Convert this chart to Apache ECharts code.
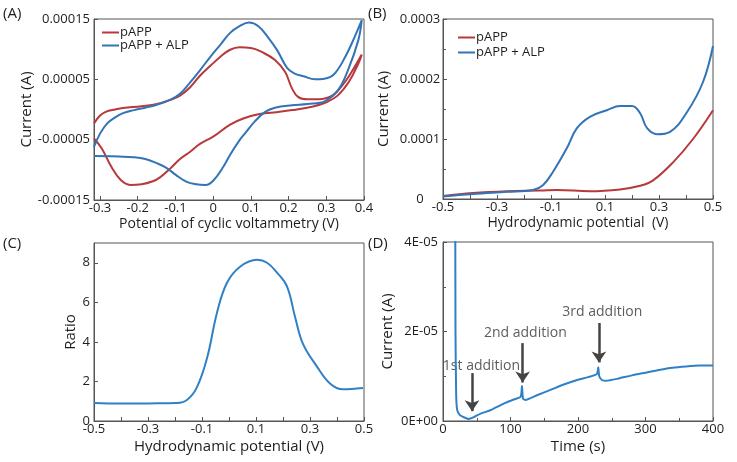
<!DOCTYPE html>
<html>
<head>
<meta charset="utf-8">
<script src="https://cdn.jsdelivr.net/npm/echarts@6/dist/echarts.min.js"></script>
<style>
  html, body { margin: 0; padding: 0; background: #fff; }
  #chart { width: 737px; height: 462px; }
</style>
</head>
<body>
<div id="chart"></div>
<script>
// (A) cyclic voltammetry, [potential V, current A], upper branch then return branch
var cvPapp = [
    [-0.316, -2.3e-5], [-0.300, -1.0e-5], [-0.285, -4e-6], [-0.26, 0], [-0.239, 2.5e-6],
    [-0.19, 5.5e-6], [-0.149, 9e-6], [-0.114, 1.6e-5], [-0.088, 2.3e-5], [-0.061, 3.7e-5],
    [-0.035, 5.6e-5], [-0.008, 7.2e-5], [0.02, 8.8e-5], [0.045, 9.9e-5], [0.07, 1.03e-4],
    [0.1, 1.02e-4], [0.13, 9.5e-5], [0.164, 8.2e-5], [0.191, 6.2e-5], [0.209, 3.5e-5],
    [0.225, 2.1e-5], [0.25, 1.7e-5], [0.279, 1.7e-5], [0.318, 2.4e-5], [0.345, 4.2e-5],
    [0.365, 6.0e-5], [0.394, 9.1e-5],
    [0.385, 7.6e-5], [0.36, 4.6e-5], [0.33, 2.3e-5], [0.3, 1.2e-5], [0.265, 5e-6],
    [0.21, -1e-6], [0.16, -5e-6], [0.12, -8e-6], [0.08, -1.5e-5], [0.045, -2.5e-5],
    [0.0, -4.5e-5], [-0.035, -5.7e-5], [-0.061, -7e-5], [-0.088, -8.2e-5], [-0.114, -9.8e-5],
    [-0.14, -1.12e-4], [-0.16, -1.19e-4], [-0.19, -1.24e-4], [-0.22, -1.25e-4],
    [-0.245, -1.17e-4], [-0.27, -9.5e-5], [-0.295, -6.5e-5], [-0.316, -4.8e-5]
];
var cvPappAlp = [
    [-0.316, -6.2e-5], [-0.3, -4.0e-5], [-0.281, -2.3e-5], [-0.26, -1.3e-5], [-0.239, -6e-6],
    [-0.21, -1e-6], [-0.18, 3e-6], [-0.149, 8e-6], [-0.114, 1.6e-5], [-0.088, 2.6e-5],
    [-0.061, 4.5e-5], [-0.035, 6.5e-5], [-0.008, 8.7e-5], [0.02, 1.08e-4], [0.045, 1.27e-4],
    [0.07, 1.38e-4], [0.095, 1.44e-4], [0.12, 1.38e-4], [0.145, 1.2e-4], [0.17, 9.8e-5],
    [0.196, 6.9e-5], [0.215, 6.0e-5], [0.24, 5.5e-5], [0.27, 5.0e-5], [0.295, 5.1e-5],
    [0.32, 5.8e-5], [0.35, 8.7e-5], [0.375, 1.2e-4], [0.394, 1.48e-4],
    [0.385, 1.15e-4], [0.358, 6.6e-5], [0.331, 3.2e-5], [0.297, 1.4e-5], [0.25, 9e-6],
    [0.209, 7e-6], [0.164, 3e-6], [0.138, -4e-6], [0.11, -2e-5], [0.085, -3.9e-5],
    [0.071, -5e-5], [0.045, -7.5e-5], [0.027, -9.5e-5], [0.0, -1.18e-4], [-0.02, -1.25e-4],
    [-0.045, -1.24e-4], [-0.07, -1.2e-4], [-0.1, -1.08e-4], [-0.123, -9.7e-5], [-0.15, -8.9e-5],
    [-0.18, -8.2e-5], [-0.212, -7.9e-5], [-0.25, -7.8e-5], [-0.316, -7.7e-5]
];

// (B) hydrodynamic voltammogram
var hydroPapp = [
    [-0.5, 5e-6], [-0.39, 1.0e-5], [-0.263, 1.3e-5], [-0.141, 1.4e-5], [-0.078, 1.5e-5],
    [0.044, 1.3e-5], [0.156, 1.6e-5], [0.23, 2.2e-5], [0.278, 3.1e-5], [0.352, 6.1e-5],
    [0.426, 1.0e-4], [0.5, 1.48e-4]
];
var hydroPappAlp = [
    [-0.5, 4e-6], [-0.39, 8.5e-6], [-0.263, 1.2e-5], [-0.167, 1.5e-5], [-0.13, 2.3e-5],
    [-0.093, 4.5e-5], [-0.041, 8.5e-5], [-0.004, 1.18e-4], [0.044, 1.37e-4], [0.107, 1.48e-4],
    [0.156, 1.55e-4], [0.2, 1.55e-4], [0.23, 1.43e-4], [0.256, 1.18e-4], [0.293, 1.08e-4],
    [0.341, 1.12e-4], [0.404, 1.45e-4], [0.463, 1.95e-4], [0.5, 2.55e-4]
];

// (C) ratio
var ratio = [
    [-0.5, 0.91], [-0.4, 0.88], [-0.3, 0.89], [-0.193, 0.91], [-0.156, 1.06], [-0.119, 1.7],
    [-0.081, 3.2], [-0.044, 5.5], [-0.007, 7.0], [0.041, 7.8], [0.104, 8.15], [0.141, 8.0],
    [0.178, 7.5], [0.215, 6.8], [0.244, 5.3], [0.274, 3.9], [0.326, 2.75], [0.374, 1.9],
    [0.422, 1.6], [0.496, 1.67]
];

// (D) amperometric response, [time s, current A]
var amperometry = [
    [17.5, 1.0e-4], [18.5, 2.0e-5], [19.5, 6e-6], [21, 2.5e-6], [25, 1.3e-6], [30, 9e-7],
    [38, 4.5e-7], [45, 8e-7], [55, 1.6e-6], [70, 2.4e-6], [90, 3.9e-6], [105, 4.8e-6],
    [115, 5.4e-6], [117, 7.8e-6], [118.5, 5.0e-6], [122, 4.7e-6], [140, 5.8e-6], [160, 7e-6],
    [180, 8.2e-6], [200, 9.2e-6], [215, 9.8e-6], [228, 1.05e-5], [230, 1.2e-5], [231.5, 1.0e-5],
    [236, 9.1e-6], [242, 9.0e-6], [260, 9.5e-6], [280, 1.02e-5], [300, 1.08e-5], [320, 1.14e-5],
    [340, 1.19e-5], [360, 1.22e-5], [380, 1.24e-5], [400, 1.24e-5]
];
var additionTimes = [43, 118, 231];
var arrowTops = [1.07e-5, 1.74e-5, 2.19e-5];
var arrowTips = [2.2e-6, 8.6e-6, 1.31e-5];
var additionNames = ['1st addition', '2nd addition', '3rd addition'];
var additionLabelTimes = [57, 122, 236];
var additionLabelValues = [1.23e-5, 1.97e-5, 2.44e-5];

// tick labels
var cvTicksX = [-0.3, -0.2, -0.1, 0, 0.1, 0.2, 0.3, 0.4];
var cvTicksY = [-0.00015, -0.00005, 0.00005, 0.00015];
var hydroTicksX = [-0.5, -0.3, -0.1, 0.1, 0.3, 0.5];
var hydroMinorX = [-0.5, -0.4, -0.3, -0.2, -0.1, 0, 0.1, 0.2, 0.3, 0.4, 0.5];
var ratioTicksY = [0, 2, 4, 6, 8];
var ampLabels = { 0: '0E+00', 2e-5: '2E-05', 4e-5: '4E-05' };

var RED = '#b7393c';
var BLUE = '#3274b6';
var BLUE2 = '#2f80c6';
var FONT = 'Open Sans';
var TXT = '#1e1e1e';

var chartDom = document.getElementById('chart');
var myChart = echarts.init(chartDom);

function xAxisBase(extra) {
    var ax = {
        type: 'value',
        nameLocation: 'middle',
        nameGap: 17,
        nameMoveOverlap: false,
        nameTextStyle: { fontSize: 14, color: TXT, fontFamily: FONT },
        axisLine: { show: true, onZero: false, lineStyle: { color: '#555' } },
        axisTick: { show: true, inside: true, length: 4, lineStyle: { color: '#555' } },
        axisLabel: { fontSize: 13, color: TXT, fontFamily: FONT, margin: 2 },
        splitLine: { show: false }
    };
    return Object.assign(ax, extra);
}
function yAxisBase(extra) {
    var ax = {
        type: 'value',
        nameLocation: 'middle',
        nameRotate: 90,
        nameMoveOverlap: false,
        nameTextStyle: { fontSize: 14, color: TXT, fontFamily: FONT },
        axisLine: { show: true, onZero: false, lineStyle: { color: '#555' } },
        axisTick: { show: true, inside: true, length: 4, lineStyle: { color: '#555' } },
        axisLabel: { fontSize: 13, color: TXT, fontFamily: FONT, margin: 4 },
        splitLine: { show: false }
    };
    return Object.assign(ax, extra);
}

var option = {
    backgroundColor: '#fff',
    animation: false,
    textStyle: { fontFamily: FONT },
    grid: [
        { left: 94, top: 19, width: 270, height: 181, show: true, borderColor: '#555', borderWidth: 1 },
        { left: 443, top: 19, width: 270, height: 180, show: true, borderColor: '#555', borderWidth: 1 },
        { left: 94, top: 243, width: 270, height: 178, show: true, borderColor: '#555', borderWidth: 1 },
        { left: 443, top: 242, width: 270, height: 179, show: true, borderColor: '#555', borderWidth: 1 }
    ],
    legend: [
        {
            data: ['pAPP', 'pAPP + ALP'], orient: 'vertical', left: 102, top: 26, padding: 0,
            icon: 'rect', itemWidth: 17, itemHeight: 2, itemGap: 0,
            textStyle: { fontSize: 13, color: TXT, fontFamily: FONT, lineHeight: 12, padding: [0, 0, 0, -4] }
        },
        {
            data: ['pAPP', 'pAPP + ALP'], orient: 'vertical', left: 458, top: 31, padding: 0,
            icon: 'rect', itemWidth: 17, itemHeight: 2, itemGap: 2,
            textStyle: { fontSize: 13, color: TXT, fontFamily: FONT, lineHeight: 12, padding: [0, 0, 0, -4] }
        }
    ],
    xAxis: [
        xAxisBase({
            gridIndex: 0, min: -0.316, max: 0.4, name: 'Potential of cyclic voltammetry (V)',
            axisLabel: { fontSize: 13, color: TXT, fontFamily: FONT, margin: 2, customValues: cvTicksX },
            axisTick: { show: true, inside: true, length: 4, lineStyle: { color: '#555' }, customValues: cvTicksX }
        }),
        xAxisBase({
            gridIndex: 1, min: -0.5, max: 0.5, name: 'Hydrodynamic potential  (V)',
            axisLabel: { fontSize: 13, color: TXT, fontFamily: FONT, margin: 2, customValues: hydroTicksX },
            axisTick: { show: true, inside: true, length: 4, lineStyle: { color: '#555' }, customValues: hydroMinorX }
        }),
        xAxisBase({
            gridIndex: 2, min: -0.5, max: 0.5, name: 'Hydrodynamic potential (V)', nameGap: 18,
            nameTextStyle: { fontSize: 15, color: TXT, fontFamily: FONT },
            axisLabel: { fontSize: 13, color: TXT, fontFamily: FONT, margin: 2, customValues: hydroTicksX },
            axisTick: { show: true, inside: true, length: 4, lineStyle: { color: '#555' }, customValues: hydroMinorX }
        }),
        xAxisBase({
            gridIndex: 3, min: 0, max: 400, interval: 100, name: 'Time (s)', nameGap: 18,
            nameTextStyle: { fontSize: 15, color: TXT, fontFamily: FONT },
            minorTick: { show: true, splitNumber: 2, length: 3, lineStyle: { color: '#555' } }
        })
    ],
    yAxis: [
        yAxisBase({
            gridIndex: 0, min: -0.00015, max: 0.00015, name: 'Current (A)', nameGap: 60,
            nameTextStyle: { fontSize: 15, color: TXT, fontFamily: FONT },
            axisLabel: {
                fontSize: 13, color: TXT, fontFamily: FONT, margin: 4, customValues: cvTicksY,
                formatter: function (v) { return v.toFixed(5); }
            },
            axisTick: { show: true, inside: true, length: 4, lineStyle: { color: '#555' }, customValues: cvTicksY }
        }),
        yAxisBase({
            gridIndex: 1, min: 0, max: 0.0003, interval: 0.0001, name: 'Current (A)', nameGap: 52,
            nameTextStyle: { fontSize: 15, color: TXT, fontFamily: FONT },
            minorTick: { show: true, splitNumber: 2, length: 3, lineStyle: { color: '#555' } },
            axisLabel: {
                fontSize: 13, color: TXT, fontFamily: FONT, margin: 23, align: 'center',
                formatter: function (v) { return v === 0 ? '0' : v.toFixed(4); }
            }
        }),
        yAxisBase({
            gridIndex: 2, min: 0, max: 9, name: 'Ratio', nameGap: 16,
            nameTextStyle: { fontSize: 15, color: TXT, fontFamily: FONT },
            axisLabel: { fontSize: 13, color: TXT, fontFamily: FONT, margin: 4, customValues: ratioTicksY },
            axisTick: { show: true, inside: true, length: 4, lineStyle: { color: '#555' }, customValues: ratioTicksY }
        }),
        yAxisBase({
            gridIndex: 3, min: 0, max: 4e-5, interval: 2e-5, name: 'Current (A)', nameGap: 48,
            nameTextStyle: { fontSize: 15, color: TXT, fontFamily: FONT },
            minorTick: { show: true, splitNumber: 2, length: 3, lineStyle: { color: '#555' } },
            axisLabel: {
                fontSize: 13, color: TXT, fontFamily: FONT, margin: 5,
                formatter: function (v) { return ampLabels[v] || ''; }
            }
        })
    ],
    series: [
        {
            name: 'pAPP', type: 'line', xAxisIndex: 0, yAxisIndex: 0, data: cvPapp,
            smooth: 0.4, showSymbol: false, color: RED, lineStyle: { color: RED, width: 2 }
        },
        {
            name: 'pAPP + ALP', type: 'line', xAxisIndex: 0, yAxisIndex: 0, data: cvPappAlp,
            smooth: 0.4, showSymbol: false, color: BLUE, lineStyle: { color: BLUE, width: 2 }
        },
        {
            name: 'pAPP', type: 'line', xAxisIndex: 1, yAxisIndex: 1, data: hydroPapp,
            smooth: 0.4, showSymbol: false, color: RED, lineStyle: { color: RED, width: 2 }
        },
        {
            name: 'pAPP + ALP', type: 'line', xAxisIndex: 1, yAxisIndex: 1, data: hydroPappAlp,
            smooth: 0.4, showSymbol: false, color: BLUE, lineStyle: { color: BLUE, width: 2 }
        },
        {
            name: 'ratio', type: 'line', xAxisIndex: 2, yAxisIndex: 2, data: ratio,
            smooth: 0.4, showSymbol: false, color: BLUE2, lineStyle: { color: BLUE2, width: 2 }
        },
        {
            name: 'amperometry', type: 'line', xAxisIndex: 3, yAxisIndex: 3, data: amperometry,
            smooth: 0.2, showSymbol: false, color: BLUE2, lineStyle: { color: BLUE2, width: 2 },
            markLine: {
                silent: true, symbol: ['none', 'arrow'], symbolSize: 11,
                label: { show: false },
                lineStyle: { color: '#444', width: 2.5, type: 'solid' },
                itemStyle: { color: '#444' },
                data: additionTimes.map(function (t, i) {
                    return [{ coord: [t, arrowTops[i]] }, { coord: [t, arrowTips[i]] }];
                })
            }
        },
        {
            name: 'notes', type: 'scatter', xAxisIndex: 3, yAxisIndex: 3, silent: true,
            symbolSize: 0,
            data: additionLabelTimes.map(function (t, i) { return [t, additionLabelValues[i], additionNames[i]]; }),
            label: {
                show: true, position: 'inside', fontSize: 14, color: '#333', fontFamily: FONT,
                formatter: function (p) { return p.data[2]; }
            }
        }
    ],
    graphic: [
        { type: 'text', left: 3, top: 6, style: { text: '(A)', fontSize: 15, fill: TXT, fontFamily: FONT } },
        { type: 'text', left: 368, top: 6, style: { text: '(B)', fontSize: 15, fill: TXT, fontFamily: FONT } },
        { type: 'text', left: 3, top: 236, style: { text: '(C)', fontSize: 15, fill: TXT, fontFamily: FONT } },
        { type: 'text', left: 368, top: 236, style: { text: '(D)', fontSize: 15, fill: TXT, fontFamily: FONT } }
    ]
};

option && myChart.setOption(option);
</script>
</body>
</html>
